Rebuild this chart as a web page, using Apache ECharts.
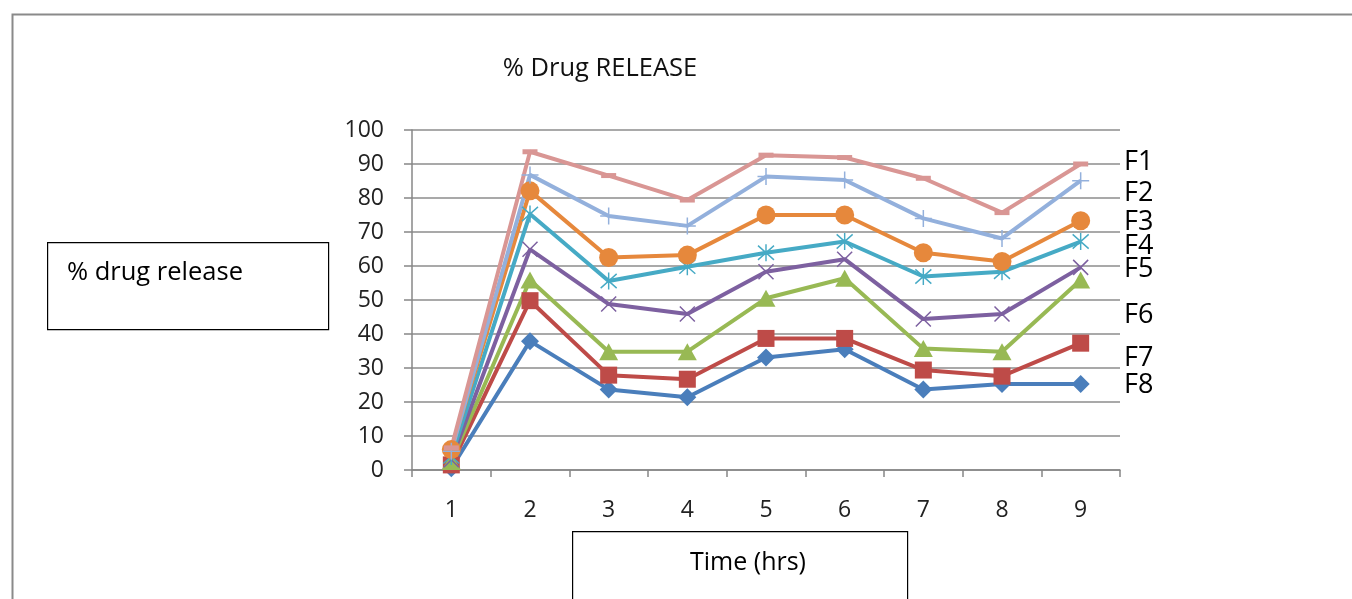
<!DOCTYPE html>
<html>
<head>
<meta charset="utf-8">
<script src="https://cdn.jsdelivr.net/npm/echarts@6/dist/echarts.min.js"></script>
<style>
html,body{margin:0;padding:0;background:#fff;}
#chart{width:1352px;height:599px;}
</style>
</head>
<body>
<div id="chart"></div>
<script>
const categories = ['1','2','3','4','5','6','7','8','9'];
const F1 = [6.5, 93.6, 86.6, 79.4, 92.6, 91.9, 85.8, 75.7, 90];
const F2 = [5.5, 86.8, 74.7, 71.8, 86.3, 85.3, 74.0, 68.1, 85.1];
const F3 = [6, 82.1, 62.5, 63.2, 75, 75, 63.9, 61.3, 73.3];
const F4 = [4, 75.3, 55.6, 59.8, 63.9, 67.2, 56.9, 58.3, 67.2];
const F5 = [3, 64.9, 48.8, 45.9, 58.3, 62, 44.4, 45.9, 59.6];
const F6 = [2.5, 55.9, 34.8, 34.8, 50.5, 56.4, 35.7, 34.8, 55.9];
const F7 = [1.5, 49.8, 27.9, 26.7, 38.7, 38.7, 29.4, 27.6, 37.3];
const F8 = [0.5, 37.9, 23.7, 21.4, 33.1, 35.5, 23.7, 25.3, 25.3];
const seriesNames = ['F8','F7','F6','F5','F4','F3','F2','F1'];
const yTicks = [0,10,20,30,40,50,60,70,80,90,100];
const titleText = '% Drug RELEASE';
const yTitle = '% drug release';
const xTitle = 'Time (hrs)';

const chart = echarts.init(document.getElementById('chart'), null, {renderer:'canvas'});

const dataMap = {F1, F2, F3, F4, F5, F6, F7, F8};
const styles = {
  F8: {color:'#4A7EBB', symbol:'diamond', size:[18,18], stroke:false},
  F7: {color:'#BE4B48', symbol:'rect', size:[17,17], stroke:false},
  F6: {color:'#98B954', symbol:'triangle', size:[19,17], stroke:false},
  F5: {color:'#7D60A0', symbol:'path://M0,0 L10,10 M10,0 L0,10', size:[15,15], stroke:true},
  F4: {color:'#46AAC5', symbol:'path://M0,0 L10,10 M10,0 L0,10 M5,-1 L5,11', size:[16,17], stroke:true},
  F3: {color:'#E6883C', symbol:'circle', size:[19,19], stroke:false},
  F2: {color:'#93B0DC', symbol:'path://M0,5 L10,5 M5,0 L5,10', size:[17,17], stroke:true},
  F1: {color:'#D99694', symbol:'rect', size:[15,5], stroke:false}
};

const series = seriesNames.map(n => {
  const s = styles[n];
  return {
    name: n,
    type: 'line',
    data: dataMap[n],
    symbol: s.symbol,
    symbolSize: s.size,
    showAllSymbol: true,
    lineStyle: {color: s.color, width: 4},
    itemStyle: s.stroke
      ? {color: 'rgba(0,0,0,0)', borderColor: s.color, borderWidth: 1.5}
      : {color: s.color, borderWidth: 0},
    emphasis: {disabled: true},
    animation: false,
    z: 2
  };
});

const labelFont = '"Open Sans", "Noto Sans", sans-serif';
const fLabelPos = {F1:162, F2:193, F3:222, F4:246, F5:269, F6:315, F7:358, F8:385};

const graphics = [
  {type:'rect', left: 10, top: 12, shape:{width:1360, height:600}, style:{fill:'none', stroke:'#8a8a8a', lineWidth:2}, z:-1},
  {type:'text', x: 600, y: 69, style:{text: titleText, font: '25.5px ' + labelFont, fill:'#111', textAlign:'center', textVerticalAlign:'middle'}},
  {type:'rect', left: 47, top: 242, shape:{width:281, height:87}, style:{fill:'#fff', stroke:'#000', lineWidth:1.2}},
  {type:'text', x: 67, y: 273, style:{text: yTitle, font: '25.5px ' + labelFont, fill:'#000', textAlign:'left', textVerticalAlign:'middle'}},
  {type:'rect', left: 572, top: 531, shape:{width:335, height:80}, style:{fill:'#fff', stroke:'#000', lineWidth:1.2}},
  {type:'text', x: 748, y: 563, style:{text: xTitle, font: '25px ' + labelFont, fill:'#000', textAlign:'center', textVerticalAlign:'middle'}}
];
Object.keys(fLabelPos).forEach(k => {
  graphics.push({type:'text', x: 1124, y: fLabelPos[k], style:{text:k, font:'27px ' + labelFont, fill:'#000', textAlign:'left', textVerticalAlign:'middle'}});
});

chart.setOption({
  animation: false,
  backgroundColor: '#fff',
  grid: {left: 412, right: 232, top: 130, bottom: 129, containLabel: false},
  xAxis: {
    type: 'category',
    data: categories,
    boundaryGap: true,
    axisLine: {lineStyle: {color:'#878787', width:1.5}},
    axisTick: {show: true, alignWithLabel: false, length: 7, lineStyle:{color:'#878787', width:1.5}},
    axisLabel: {color:'#222', fontSize: 23, fontFamily: labelFont, margin: 29},
    splitLine: {show:false}
  },
  yAxis: {
    type: 'value',
    min: yTicks[0],
    max: yTicks[yTicks.length-1],
    interval: 10,
    axisLine: {show: true, lineStyle: {color:'#878787', width:1.5}},
    axisTick: {show: true, length: 8, lineStyle:{color:'#878787', width:1.5}},
    axisLabel: {color:'#222', fontSize: 23, fontFamily: labelFont, margin: 28},
    splitLine: {show: true, lineStyle: {color:'#8c8c8c', width:1.5}}
  },
  series: series,
  graphic: graphics
});
</script>
</body>
</html>
